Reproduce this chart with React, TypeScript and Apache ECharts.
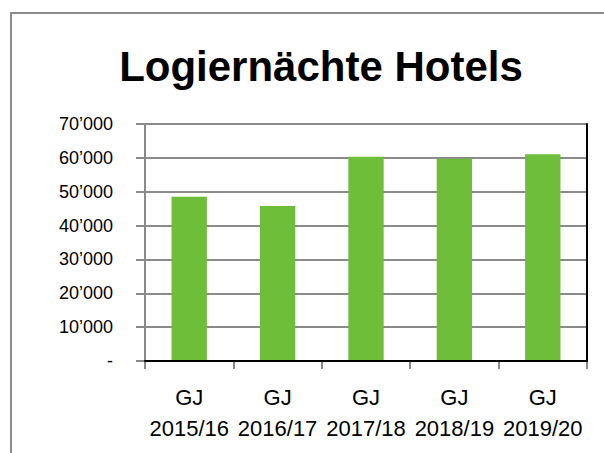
import React, { useEffect, useRef } from "react";
import * as echarts from "echarts";

const categories = ["GJ\n2015/16", "GJ\n2016/17", "GJ\n2017/18", "GJ\n2018/19", "GJ\n2019/20"];
const values = [48500, 45800, 60300, 59700, 61100];
const yTicks = [0, 10000, 20000, 30000, 40000, 50000, 60000, 70000];
const titleText = "Logiernächte Hotels";

const FONT = "'Liberation Sans', Arial, sans-serif";
const GREY = "#8a8a8a";

function fmt(v: number): string {
  if (v === 0) return "-";
  const s = String(Math.round(v));
  return s.replace(/\B(?=(\d{3})+(?!\d))/g, "\u2019");
}

export default function App() {
  const ref = useRef<HTMLDivElement>(null);
  useEffect(() => {
    if (!ref.current) return;
    const chart = echarts.init(ref.current, undefined, { renderer: "svg" });
    chart.setOption({
      animation: false,
      backgroundColor: "#ffffff",
      title: {
        text: titleText,
        left: 316,
        top: 40,
        textAlign: "center",
        textStyle: { fontFamily: FONT, fontWeight: "bold", fontSize: 42, color: "#000" },
      },
      graphic: [
        {
          type: "polyline",
          shape: { points: [[11, 460], [11, 13], [610, 13]] },
          style: { stroke: GREY, lineWidth: 2, fill: "none" },
          silent: true,
        },
      ],
      grid: { left: 145, right: 17, top: 124, bottom: 92, containLabel: false },
      xAxis: [
        {
          type: "category",
          data: categories,
          axisLine: { show: true, lineStyle: { color: GREY, width: 2 } },
          axisTick: { show: true, length: 8, lineStyle: { color: GREY, width: 2 } },
          axisLabel: {
            fontFamily: FONT,
            fontSize: 22,
            lineHeight: 31,
            color: "#000",
            margin: 21,
            interval: 0,
          },
        },
        {
          type: "category",
          position: "top",
          data: categories,
          z: 5,
          axisLine: { show: true, lineStyle: { color: "#000", width: 2 } },
          axisTick: { show: false },
          axisLabel: { show: false },
        },
      ],
      yAxis: [
        {
          type: "value",
          min: 0,
          max: 70000,
          interval: 10000,
          axisLine: { show: true, lineStyle: { color: GREY, width: 2 } },
          axisTick: { show: true, length: 9, lineStyle: { color: GREY, width: 2 } },
          splitLine: { show: true, lineStyle: { color: GREY, width: 2 } },
          axisLabel: {
            fontFamily: FONT,
            fontSize: 18,
            color: "#000",
            margin: 32,
            formatter: (v: number) => (yTicks.includes(v) ? fmt(v) : ""),
          },
        },
        {
          type: "value",
          position: "right",
          min: 0,
          max: 70000,
          interval: 10000,
          z: 5,
          axisLine: { show: true, lineStyle: { color: "#000", width: 2 } },
          axisTick: { show: false },
          axisLabel: { show: false },
          splitLine: { show: false },
        },
      ],
      series: [
        {
          type: "bar",
          data: values,
          barWidth: "40%",
          itemStyle: { color: "#6EBE3A" },
        },
      ],
    });
    return () => chart.dispose();
  }, []);
  return (
    <div
      ref={ref}
      style={{ position: "fixed", left: 0, top: 0, width: 604, height: 453 }}
    />
  );
}
